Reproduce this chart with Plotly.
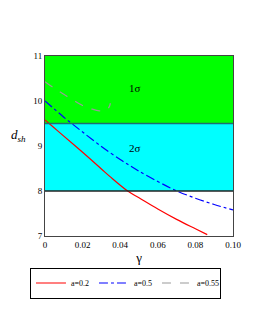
import plotly.graph_objects as go

# Data
x_red = [0.0, 0.005, 0.01, 0.02, 0.03, 0.0346, 0.044, 0.05, 0.06, 0.07, 0.08, 0.0863]
y_red = [9.58, 9.40, 9.22, 8.86, 8.49, 8.32, 8.00, 7.85, 7.60, 7.37, 7.16, 7.03]

x_blue = [0.0, 0.005, 0.01, 0.0142, 0.02, 0.03, 0.04, 0.0453, 0.05, 0.06, 0.0702, 0.08, 0.09, 0.10]
y_blue = [10.0, 9.82, 9.64, 9.50, 9.31, 8.99, 8.70, 8.56, 8.44, 8.21, 8.00, 7.84, 7.70, 7.58]

x_gray = [0.0, 0.005, 0.01, 0.015, 0.02, 0.025, 0.029, 0.032, 0.034, 0.0348]
y_gray = [10.43, 10.28, 10.15, 10.02, 9.90, 9.82, 9.78, 9.79, 9.86, 9.95]

band_1sigma = [9.5, 11.0]
band_2sigma = [8.0, 9.5]

x_ticks = [0, 0.02, 0.04, 0.06, 0.08, 0.10]
x_ticktext = ["0", "0.02", "0.04", "0.06", "0.08", "0.10"]
y_ticks = [7, 8, 9, 10, 11]

FONT = "Liberation Serif"

fig = go.Figure()

fig.add_trace(go.Scatter(x=x_red, y=y_red, mode="lines", name="a=0.2",
                         line=dict(color="#ff0000", width=1.2, shape="spline")))
fig.add_trace(go.Scatter(x=x_blue, y=y_blue, mode="lines", name="a=0.5",
                         line=dict(color="#0000ff", width=1.2, dash="dashdot", shape="spline")))
fig.add_trace(go.Scatter(x=x_gray, y=y_gray, mode="lines", name="a=0.55",
                         line=dict(color="#999999", width=1.2, dash="dash", shape="spline")))

fig.add_shape(type="rect", xref="x", yref="y", x0=0, x1=0.10,
              y0=band_1sigma[0], y1=band_1sigma[1], fillcolor="#00ff00",
              line=dict(width=0), layer="below")
fig.add_shape(type="rect", xref="x", yref="y", x0=0, x1=0.10,
              y0=band_2sigma[0], y1=band_2sigma[1], fillcolor="#00ffff",
              line=dict(width=0), layer="below")
fig.add_shape(type="line", xref="x", yref="y", x0=0, x1=0.10,
              y0=band_1sigma[0], y1=band_1sigma[0], line=dict(color="#1f6f6f", width=1.3))
fig.add_shape(type="line", xref="x", yref="y", x0=0, x1=0.10,
              y0=band_2sigma[0], y1=band_2sigma[0], line=dict(color="#222222", width=1.3))

fig.add_annotation(x=0.048, y=10.29, text="1σ", showarrow=False,
                   font=dict(family=FONT, size=11, color="black"))
fig.add_annotation(x=0.048, y=8.96, text="2σ", showarrow=False,
                   font=dict(family=FONT, size=11, color="black"))

fig.add_annotation(xref="paper", yref="paper", x=-0.09, y=0.56,
                   text="<i>d</i><sub><i>sh</i></sub>", showarrow=False,
                   xanchor="right", font=dict(family=FONT, size=13, color="black"))

fig.update_layout(
    width=250, height=325,
    margin=dict(l=37, r=25, t=48, b=97, autoexpand=False),
    plot_bgcolor="white", paper_bgcolor="white",
    font=dict(family=FONT, size=9, color="black"),
    showlegend=True,
    legend=dict(orientation="h", x=-0.08, y=-0.175, xanchor="left", yanchor="top",
                bordercolor="black", borderwidth=1,
                font=dict(family=FONT, size=8, color="black"),
                itemwidth=30, entrywidth=18, entrywidthmode="pixels",
                tracegroupgap=0, bgcolor="white"),
    xaxis=dict(range=[0, 0.10], tickvals=x_ticks, ticktext=x_ticktext,
               showgrid=False, zeroline=False, showline=True, linecolor="#444444",
               linewidth=1, mirror=True, ticks="", tickfont=dict(size=9),
               title=dict(text="γ", font=dict(family=FONT, size=13), standoff=4)),
    yaxis=dict(range=[7, 11], tickvals=y_ticks, showgrid=False, zeroline=False,
               showline=True, linecolor="#444444", linewidth=1, mirror=True,
               ticks="", tickfont=dict(size=9)),
)

fig.write_html("out.html")
